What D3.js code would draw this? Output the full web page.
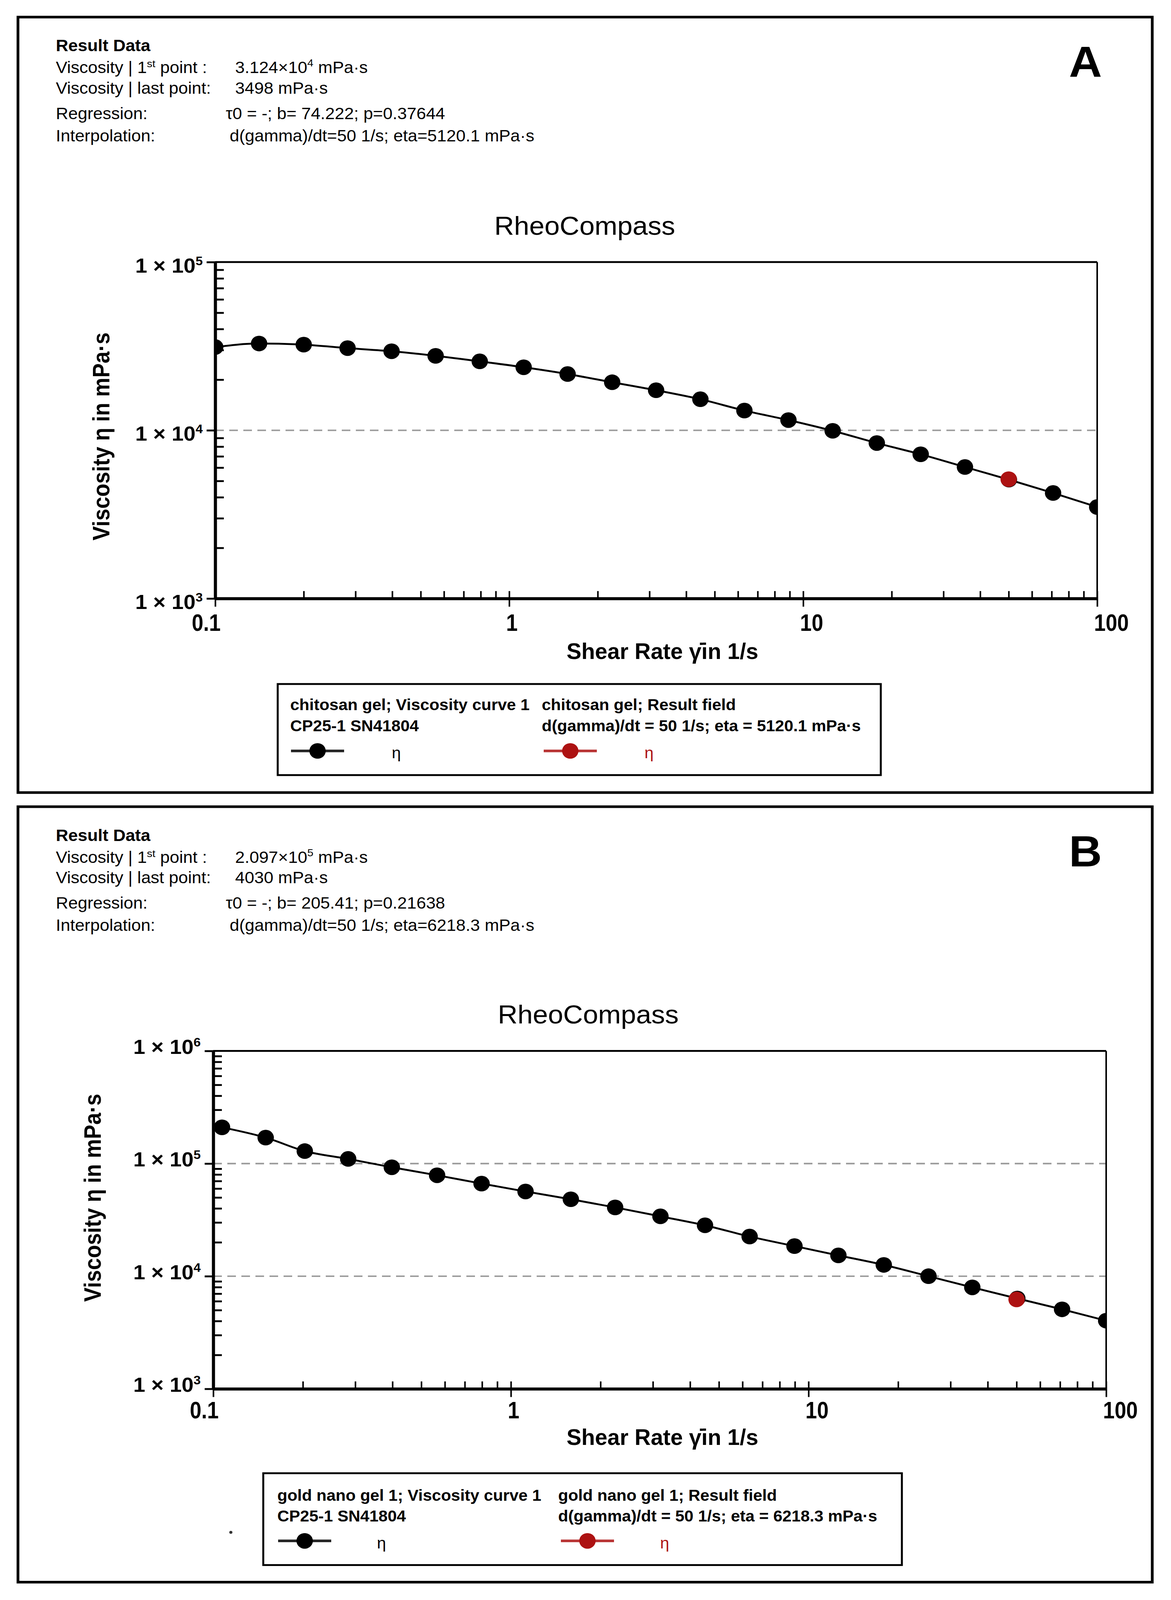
<!DOCTYPE html>
<html>
<head>
<meta charset="utf-8">
<script src="https://cdnjs.cloudflare.com/ajax/libs/d3/7.8.5/d3.min.js"></script>
<style>
  html, body { margin: 0; padding: 0; background: #fff; overflow: hidden; }
  #chart { display: block; width: 100vw; height: 100vh; }
  text { font-family: "Liberation Sans", Arial, Helvetica, sans-serif; fill: #000; }
</style>
</head>
<body>
<svg id="chart" viewBox="0 0 2998 4304" preserveAspectRatio="none"></svg>
<script>
// ---- data ----
const shearA = [0.1, 0.141, 0.2, 0.282, 0.398, 0.562, 0.794, 1.12, 1.58, 2.24, 3.16,
                4.47, 6.31, 8.91, 12.6, 17.8, 25.1, 35.5, 50.1, 70.8, 100];
const etaA = [31240, 32800, 32300, 30800, 29500, 27700, 25700, 23700, 21600, 19300, 17300,
              15300, 13100, 11500, 9930, 8400, 7200, 6050, 5090, 4240, 3498];
const resultA = [50, 5120.1];

const shearB = [0.107, 0.15, 0.203, 0.284, 0.398, 0.565, 0.797, 1.12, 1.59, 2.24, 3.18,
                4.49, 6.34, 8.97, 12.6, 17.9, 25.3, 35.5, 50.3, 71.1, 100];
const etaB = [209700, 170000, 129000, 110000, 92700, 78700, 66400, 56500, 48200, 40800, 34000,
              28300, 22500, 18500, 15300, 12600, 10000, 7960, 6340, 5080, 4030];
const resultB = [50, 6218.3];

const xTicks = [0.1, 1, 10, 100];
const xTickLabels = ["0.1", "1", "10", "100"];
const yTicksA = [1e3, 1e4, 1e5];
const yTicksB = [1e3, 1e4, 1e5, 1e6];

const headerLabels = ["Viscosity | 1", "Viscosity | last point:", "Regression:", "Interpolation:"];
const headerA = ["3.124\u00D710", "4", "3498 mPa\u00B7s", "\u03C40 = -; b= 74.222; p=0.37644",
                 "d(gamma)/dt=50 1/s; eta=5120.1 mPa\u00B7s"];
const headerB = ["2.097\u00D710", "5", "4030 mPa\u00B7s", "\u03C40 = -; b= 205.41; p=0.21638",
                 "d(gamma)/dt=50 1/s; eta=6218.3 mPa\u00B7s"];

const legendA = ["chitosan gel; Viscosity curve 1", "CP25-1 SN41804",
                 "chitosan gel; Result field", "d(gamma)/dt = 50 1/s; eta = 5120.1 mPa\u00B7s"];
const legendB = ["gold nano gel 1; Viscosity curve 1", "CP25-1 SN41804",
                 "gold nano gel 1; Result field", "d(gamma)/dt = 50 1/s; eta = 6218.3 mPa\u00B7s"];

const RED = "#ad1212";
const svg = d3.select("#chart");

function drawPanel(p) {
   const g = svg.append("g");
   const dy = p.dy;

   // outer frame
   g.append("rect")
      .attr("x", 46).attr("y", 46 + dy)
      .attr("width", 2904).attr("height", 2086)
      .attr("fill", "none").attr("stroke", "#000").attr("stroke-width", 7);

   // panel letter
   g.append("text").attr("x", 2779).attr("y", 207 + dy)
      .attr("text-anchor", "middle").style("font-size", "117px").style("font-weight", "bold")
      .text(p.letter);

   // result data block
   g.append("text").attr("x", 143).attr("y", 138 + dy)
      .style("font-size", "44px").style("font-weight", "bold").text("Result Data");
   const rows = [197, 252, 320, 380];
   const l1 = g.append("text").attr("x", 143).attr("y", rows[0] + dy).style("font-size", "44px");
   l1.append("tspan").text(headerLabels[0]);
   l1.append("tspan").attr("dy", -16).style("font-size", "28px").text("st");
   l1.append("tspan").attr("dy", 16).text(" point  :");
   const v1 = g.append("text").attr("x", 602).attr("y", rows[0] + dy).style("font-size", "44px");
   v1.append("tspan").text(p.header[0]);
   v1.append("tspan").attr("dy", -18).style("font-size", "28px").text(p.header[1]);
   v1.append("tspan").attr("dy", 18).text("  mPa\u00B7s");
   g.append("text").attr("x", 143).attr("y", rows[1] + dy).style("font-size", "44px").text(headerLabels[1]);
   g.append("text").attr("x", 602).attr("y", rows[1] + dy).style("font-size", "44px").text(p.header[2]);
   g.append("text").attr("x", 143).attr("y", rows[2] + dy).style("font-size", "44px").text(headerLabels[2]);
   g.append("text").attr("x", 578).attr("y", rows[2] + dy).style("font-size", "44px").text(p.header[3]);
   g.append("text").attr("x", 143).attr("y", rows[3] + dy).style("font-size", "44px").text(headerLabels[3]);
   g.append("text").attr("x", 588).attr("y", rows[3] + dy).style("font-size", "44px").text(p.header[4]);

   // chart title
   g.append("text").attr("x", p.titleX).attr("y", p.titleY)
      .attr("text-anchor", "middle").style("font-size", "70px").text("RheoCompass");

   // scales
   const x = d3.scaleLog().domain([0.1, 100]).range([p.l, p.r]);
   const y = d3.scaleLog().domain(p.yDomain).range([p.b, p.t]);

   // dashed grid at inner decades
   g.append("g").selectAll("line")
      .data(p.yTicks.filter(v => v > p.yDomain[0] && v < p.yDomain[1]))
      .enter().append("line")
      .attr("x1", p.l).attr("x2", p.r)
      .attr("y1", d => y(d)).attr("y2", d => y(d))
      .attr("stroke", "#9a9a9a").attr("stroke-width", 4).attr("stroke-dasharray", "22,14");

   // top and right frame of the plot
   g.append("line").attr("x1", p.l).attr("x2", p.r).attr("y1", p.t).attr("y2", p.t)
      .attr("stroke", "#000").attr("stroke-width", 5);
   g.append("line").attr("x1", p.r).attr("x2", p.r).attr("y1", p.t).attr("y2", p.b)
      .attr("stroke", "#000").attr("stroke-width", 4);

   // y axis: major ticks outward, minor ticks inward
   const yMinor = y.ticks().filter(v => p.yTicks.indexOf(v) < 0);
   g.append("g").attr("transform", `translate(${p.l},0)`)
      .call(d3.axisLeft(y).tickValues(p.yTicks).tickFormat("").tickSize(22).tickSizeOuter(0))
      .call(a => a.select(".domain").attr("stroke-width", 8))
      .call(a => a.selectAll(".tick line").attr("stroke-width", 5));
   g.append("g").attr("transform", `translate(${p.l},0)`)
      .call(d3.axisRight(y).tickValues(yMinor).tickFormat("").tickSize(22).tickSizeOuter(0))
      .call(a => a.select(".domain").remove())
      .call(a => a.selectAll(".tick line").attr("stroke-width", 5));

   // x axis: majors through the axis, minors inward
   g.append("g").attr("transform", `translate(0,${p.b})`)
      .call(d3.axisBottom(x).tickValues(xTicks).tickFormat("").tickSize(22).tickSizeOuter(0))
      .call(a => a.select(".domain").attr("stroke-width", 8))
      .call(a => a.selectAll(".tick line").attr("stroke-width", 4));
   g.append("g").attr("transform", `translate(0,${p.b})`)
      .call(d3.axisTop(x).tickValues(x.ticks()).tickFormat("").tickSize(20).tickSizeOuter(0))
      .call(a => a.select(".domain").remove())
      .call(a => a.selectAll(".tick line").attr("stroke-width", 4));

   // y tick labels
   const yl = g.append("g").selectAll("text").data(p.yTicks).enter().append("text")
      .attr("x", p.l - 32).attr("y", d => y(d) + p.yLabOff)
      .attr("text-anchor", "end").style("font-size", "55px").style("font-weight", "bold");
   yl.append("tspan").text("1 \u00D7 10");
   yl.append("tspan").attr("dy", -20).style("font-size", "33px")
      .text(d => String(Math.round(Math.log10(d))));

   // x tick labels (the digit "1" of each label sits on its tick)
   g.append("g").selectAll("text").data(xTicks).enter().append("text")
      .attr("transform", (d, i) => {
         const xx = xTickLabels[i][0] === "1" ? x(d) - 8 : x(d) + 14;
         return `translate(${xx},${p.xLabY}) scale(0.82,1)`;
      })
      .attr("text-anchor", (d, i) => xTickLabels[i][0] === "1" ? "start" : "end")
      .style("font-size", "65px").style("font-weight", "bold")
      .text((d, i) => xTickLabels[i]);

   // axis titles
   g.append("text")
      .attr("transform", `translate(${p.xTitleX},${p.xTitleY}) scale(0.95,1)`)
      .attr("text-anchor", "middle").style("font-size", "60px").style("font-weight", "bold")
      .text("Shear Rate \u03B3\u0307in 1/s");
   g.append("text")
      .attr("transform", `translate(${p.yTitleX},${p.yTitleY}) rotate(-90) scale(0.93,1)`)
      .attr("text-anchor", "middle").style("font-size", "62px").style("font-weight", "bold")
      .text("Viscosity \u03B7 in mPa\u00B7s");

   // curve and markers, clipped to the plot area
   const clipId = "clip" + p.letter;
   g.append("clipPath").attr("id", clipId).append("rect")
      .attr("x", p.l).attr("y", p.t).attr("width", p.r - p.l).attr("height", p.b - p.t);
   const plot = g.append("g").attr("clip-path", `url(#${clipId})`);
   const pts = p.shear.map((s, i) => [s, p.eta[i]]);
   const line = d3.line().x(d => x(d[0])).y(d => y(d[1])).curve(d3.curveMonotoneX);
   plot.append("path").datum(pts).attr("d", line)
      .attr("fill", "none").attr("stroke", "#000").attr("stroke-width", 5);
   plot.selectAll("circle.pt").data(pts).enter().append("circle")
      .attr("class", "pt").attr("cx", d => x(d[0])).attr("cy", d => y(d[1]))
      .attr("r", 21).attr("fill", "#000");
   plot.append("circle").attr("cx", x(p.result[0])).attr("cy", y(p.result[1]))
      .attr("r", 21).attr("fill", RED);

   // legend box
   const L = p.leg;
   g.append("rect").attr("x", L.x).attr("y", L.y).attr("width", L.w).attr("height", L.h)
      .attr("fill", "#fff").attr("stroke", "#000").attr("stroke-width", 5);
   const lt = [[L.c1, L.r1, 0], [L.c1, L.r2, 1], [L.c2, L.r1, 2], [L.c2, L.r2, 3]];
   g.append("g").selectAll("text").data(lt).enter().append("text")
      .attr("x", d => d[0]).attr("y", d => d[1])
      .style("font-size", "42px").style("font-weight", "bold")
      .text(d => p.legend[d[2]]);
   [[L.m1, "#000", L.e1], [L.m2, RED, L.e2]].forEach(([cx, col, ex]) => {
      g.append("line").attr("x1", cx - 68).attr("x2", cx + 68).attr("y1", L.my).attr("y2", L.my)
         .attr("stroke", col).attr("stroke-width", 7).attr("stroke-opacity", 0.85);
      g.append("circle").attr("cx", cx).attr("cy", L.my).attr("r", 21).attr("fill", col);
      g.append("text").attr("x", ex).attr("y", L.my + 20)
         .style("font-size", "42px").style("fill", col).text("\u03B7");
   });
}

drawPanel({
   letter: "A", dy: 0, header: headerA, legend: legendA,
   shear: shearA, eta: etaA, result: resultA,
   yDomain: [1e3, 1e5], yTicks: yTicksA,
   l: 551, r: 2809, t: 705, b: 1610, yLabOff: 28,
   titleX: 1497, titleY: 632, xLabY: 1697,
   xTitleX: 1696, xTitleY: 1773, yTitleX: 280, yTitleY: 1174,
   leg: { x: 711, y: 1840, w: 1544, h: 245, c1: 743, c2: 1387, r1: 1910, r2: 1967,
          my: 2020, m1: 813, m2: 1460, e1: 1003, e2: 1650 }
});

drawPanel({
   letter: "B", dy: 2124, header: headerB, legend: legendB,
   shear: shearB, eta: etaB, result: resultB,
   yDomain: [1e3, 1e6], yTicks: yTicksB,
   l: 546, r: 2832, t: 2827, b: 3736, yLabOff: 8,
   titleX: 1506, titleY: 2753, xLabY: 3815,
   xTitleX: 1696, xTitleY: 3887, yTitleX: 258, yTitleY: 3222,
   leg: { x: 674, y: 3963, w: 1635, h: 247, c1: 710, c2: 1429, r1: 4037, r2: 4093,
          my: 4145, m1: 780, m2: 1504, e1: 965, e2: 1690 }
});

// small stray mark below panel B's axis title
svg.append("circle").attr("cx", 591).attr("cy", 4122).attr("r", 4).attr("fill", "#333");
</script>
</body>
</html>
